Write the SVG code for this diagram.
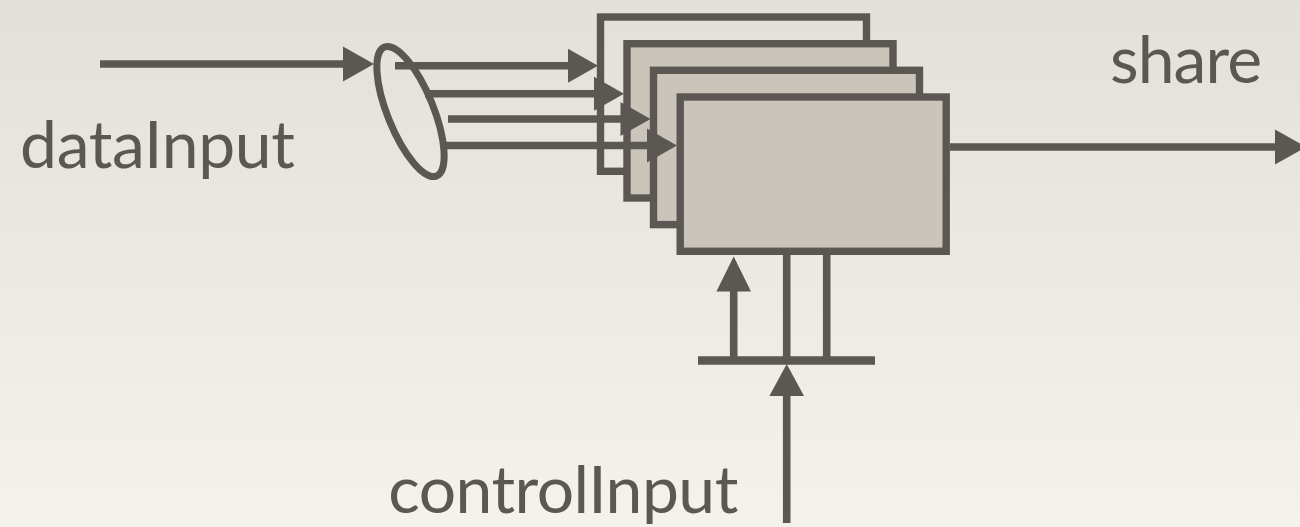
<svg xmlns="http://www.w3.org/2000/svg" width="1300" height="527" viewBox="0 0 1300 527">
  <defs>
    <linearGradient id="bg" x1="0" y1="0" x2="0" y2="1">
      <stop offset="0" stop-color="#e3e0db"/>
      <stop offset="1" stop-color="#f4f2ed"/>
    </linearGradient>
  </defs>
  <style>
    .box { stroke: #5b5752; stroke-width: 7.4; }
    .blank { fill: none; }
    .filled { fill: #cbc4bb; }
    .wire { stroke: #5b5752; stroke-width: 7.6; fill: none; }
    .head { fill: #5b5752; }
    .label { font-family: Lato, "Open Sans", sans-serif; font-size: 66px; fill: #5b5752; }
  </style>

  <rect width="1300" height="527" fill="url(#bg)"/>

  <!-- stacked processing units, back to front -->
  <g id="unit-1"><rect class="box blank" x="600.5" y="17" width="266" height="154.3"/></g>
  <g id="unit-2"><rect class="box filled" x="627" y="43.7" width="266" height="154.3"/></g>
  <g id="unit-3"><rect class="box filled" x="653.5" y="70.3" width="266" height="154.3"/></g>
  <g id="unit-4"><rect class="box filled" x="680.2" y="97" width="266" height="154.3"/></g>

  <!-- splitter on the data input -->
  <g id="splitter">
    <ellipse cx="410.5" cy="111.5" rx="23" ry="69.5" transform="rotate(-22 410.5 111.5)" fill="none" stroke="#5b5752" stroke-width="7"/>
  </g>

  <!-- control distribution bar -->
  <g id="control-bar">
    <line x1="698" y1="360.5" x2="875" y2="360.5" stroke="#5b5752" stroke-width="8.5"/>
  </g>

  <!-- labels -->
  <g id="label-data"><text class="label" x="20" y="168.3" textLength="275" lengthAdjust="spacing">dataInput</text></g>
  <g id="label-share"><text class="label" x="1110" y="82.7" textLength="152" lengthAdjust="spacing">share</text></g>
  <g id="label-control"><text class="label" x="388.3" y="513.3" textLength="350" lengthAdjust="spacing">controlInput</text></g>

  <g id="connectors">
    <!-- data input into splitter -->
    <line class="wire" x1="100" y1="64" x2="346" y2="64"/>
    <polygon class="head" points="374,64 343,46.5 343,81.5"/>

    <!-- fan-out to each unit -->
    <line class="wire" x1="395" y1="65.8" x2="570" y2="65.8"/>
    <polygon class="head" points="598,65.8 568,48.8 568,82.8"/>

    <line class="wire" x1="425" y1="93.7" x2="596" y2="93.7"/>
    <polygon class="head" points="624,93.7 594,76.7 594,110.7"/>

    <line class="wire" x1="448" y1="119" x2="622" y2="119"/>
    <polygon class="head" points="650.5,119 620.5,102 620.5,136"/>

    <line class="wire" x1="443" y1="145.5" x2="649" y2="145.5"/>
    <polygon class="head" points="677,145.5 647,128.5 647,162.5"/>

    <!-- output -->
    <line class="wire" x1="950" y1="147" x2="1278" y2="147"/>
    <polygon class="head" points="1306,147 1275,129.5 1275,164.5"/>

    <!-- control lines up into the front unit -->
    <line class="wire" x1="733.7" y1="357" x2="733.7" y2="288"/>
    <polygon class="head" points="733.7,256.5 716.4,291.5 751,291.5"/>
    <line class="wire" x1="786.7" y1="255" x2="786.7" y2="357"/>
    <line class="wire" x1="826.7" y1="255" x2="826.7" y2="357"/>

    <!-- control input into the bar -->
    <line class="wire" x1="786.7" y1="523" x2="786.7" y2="392"/>
    <polygon class="head" points="786.7,364 769.4,396 804,396"/>
  </g>
</svg>
